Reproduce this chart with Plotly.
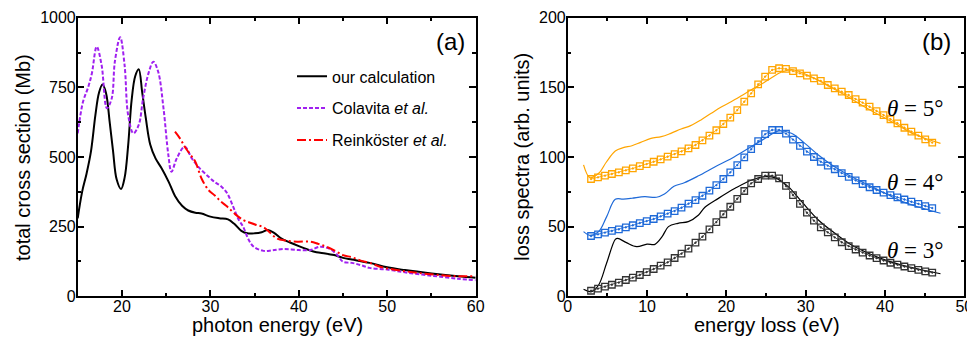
import plotly.graph_objects as go

# ---------------- panel (a) data ----------------
calc_x = [15, 15.5, 16, 16.5, 17, 17.4, 17.8, 18.2, 18.6, 19, 19.4, 19.9, 20.3, 20.7, 21.1, 21.5, 21.9,
          22.3, 22.7, 23.2, 23.8, 24.5, 25.3, 26, 26.8, 27.5, 28.3, 29, 30, 31, 32, 32.7, 33.5, 34.2,
          35, 35.8, 36.5, 37.2, 38, 39, 40, 41, 42, 43, 44, 45, 46, 48, 50, 52, 55, 58, 60]
calc_y = [280, 375, 440, 520, 650, 730, 760, 730, 630, 520, 420, 385, 425, 540, 705, 790, 815,
          730, 640, 545, 495, 459, 410, 360, 325, 308, 300, 297, 286, 280, 276, 260, 235, 226,
          226, 230, 238, 228, 208, 193, 180, 168, 158, 154, 148, 138, 132, 120, 104, 94, 82, 72, 67]

cola_x = [15, 15.6, 16.2, 16.6, 17.15, 17.7, 18.3, 18.85, 19.2, 19.8, 20.3, 20.7, 21.3, 21.9, 22.4, 23,
          23.55, 24.1, 24.7, 25.25, 25.6, 26.2, 27.1, 27.9, 28.8, 29.8, 30.5, 31.2, 31.9, 32.6, 33.2,
          33.7, 34.3, 34.9, 36, 37, 38.3, 40, 41.3, 42.4, 43.5, 44.3, 45, 46, 47, 48, 50, 52, 55, 58, 60]
cola_y = [585, 698, 752, 800, 896, 830, 675, 711, 842, 930, 830, 651, 585, 615, 711, 800,
          842, 806, 675, 507, 447, 495, 537, 495, 459, 429, 410, 395, 370, 320, 275,
          250, 205, 178, 163, 165, 170, 166, 166, 178, 170, 150, 124, 120, 112, 102, 96, 86, 74, 63, 58]

rein_x = [26, 26.6, 27.1, 27.7, 28.3, 29, 29.8, 30.5, 31.2, 31.9, 32.8, 33.7, 34.5, 35.2, 36, 36.7,
          37.5, 38.5, 39.8, 41.3, 42.2, 43.1, 44, 45, 46, 47, 48, 49, 50, 52, 54, 56, 58, 60]
rein_y = [591, 565, 537, 510, 483, 423, 381, 362, 340, 322, 295, 274, 264, 256, 248, 230,
          208, 200, 196, 196, 188, 178, 165, 148, 140, 128, 120, 108, 100, 90, 82, 76, 72, 72]

# ---------------- panel (b) data ----------------
sq_x = [2.94, 3.82, 4.70, 5.57, 6.45, 7.33, 8.21, 9.09, 9.96, 10.84, 11.72, 12.60, 13.48, 14.35,
        15.23, 16.11, 16.99, 17.87, 18.74, 19.62, 20.50, 21.38, 22.26, 23.13, 24.01, 24.89, 25.77,
        26.65, 27.52, 28.40, 29.28, 30.16, 31.04, 31.91, 32.79, 33.67, 34.55, 35.43, 36.30, 37.18,
        38.06, 38.94, 39.82, 40.69, 41.57, 42.45, 43.33, 44.21, 45.08, 45.96]
sq3 = [4.0, 5.5, 6.9, 8.3, 9.8, 11.7, 13.4, 15.3, 17.4, 19.6, 22.0, 24.4, 27.5, 30.6, 34.2, 38.5,
       42.8, 48.1, 53.3, 58.9, 64.3, 70.0, 75.6, 81.1, 84.2, 86.6, 86.6, 84.7, 79.2, 72.7, 66.3, 60.0,
       54.3, 49.5, 45.9, 42.3, 38.8, 36.0, 33.6, 31.4, 29.3, 27.4, 25.7, 24.1, 22.7, 21.4, 20.2, 19.0,
       17.9, 17.0]
sq4 = [43.3, 44.5, 45.7, 46.9, 48.1, 49.5, 51.0, 52.6, 54.0, 55.5, 57.4, 59.3, 61.2, 63.6, 66.5, 69.1,
       72.2, 75.8, 79.8, 84.2, 89.0, 94.2, 99.8, 105.6, 111.4, 116.4, 119.4, 119.4, 116.8, 112.5, 108.0,
       103.8, 100.0, 96.6, 93.8, 91.2, 88.4, 85.8, 83.2, 80.6, 78.3, 76.3, 74.4, 72.7, 71.0, 69.5, 67.9,
       66.4, 64.8, 63.3]
sq5 = [84.2, 85.4, 86.6, 87.8, 89.0, 90.4, 91.8, 93.5, 94.9, 96.6, 98.3, 100.2, 102.1, 104.0, 106.2,
       108.6, 112.0, 115.4, 119.2, 123.7, 128.2, 133.7, 139.7, 145.7, 152.2, 157.7, 162.5, 163.7, 163.2,
       161.7, 160.1, 158.4, 156.5, 154.6, 151.7, 149.3, 146.9, 144.5, 141.6, 139.0, 136.1, 133.0, 130.1,
       127.1, 124.2, 121.0, 118.2, 115.3, 112.7, 110.3]

l3_x = [2.0, 3.0, 3.9, 4.9, 6.0, 6.3, 7.4, 8.7, 10.0, 11.0, 11.9, 12.7, 13.9, 15.2, 16.5, 17.3, 19.0,
        21.1, 23.2, 24.9, 26.1, 27.8, 29.5, 31.6, 33.7, 35.8, 37.9, 40.0, 42.1, 44.2, 47.0]
l3_y = [5.0, 3.3, 8.1, 23.7, 40.9, 41.6, 38.5, 35.6, 37.5, 37.3, 42.8, 50.0, 52.4, 53.6, 58.4, 63.9, 70.3,
        77.5, 83.5, 85.9, 85.2, 78.7, 67.9, 54.8, 45.2, 36.8, 30.9, 26.1, 22.5, 19.6, 16.2]
l4_x = [2.0, 2.8, 3.9, 4.9, 6.0, 7.0, 8.1, 9.7, 11.2, 12.2, 13.4, 14.7, 16.5, 18.6, 20.7, 22.8, 24.9,
        26.6, 28.2, 29.9, 31.6, 33.3, 35.4, 37.5, 40.0, 42.0, 44.0, 47.0]
l4_y = [46.4, 43.8, 46.4, 57.0, 69.6, 69.8, 70.4, 71.5, 71.1, 73.4, 79.0, 81.5, 86.5, 93.0, 99.1, 106.2,
        113.4, 118.7, 117.0, 109.8, 101.4, 94.3, 87.1, 81.0, 74.0, 68.5, 64.5, 59.6]
l5_x = [2.0, 2.8, 3.9, 4.9, 6.0, 7.0, 8.1, 9.2, 10.5, 11.8, 13.0, 14.3, 15.5, 16.8, 18.1, 19.3, 20.6,
        21.9, 23.1, 24.4, 25.6, 26.9, 28.2, 29.0, 31.1, 33.2, 35.3, 37.4, 39.5, 41.6, 43.7, 47.0]
l5_y = [94.3, 85.2, 88.3, 96.6, 104.3, 106.7, 108.1, 110.5, 113.4, 114.6, 117.0, 120.1, 122.5, 126.6,
        131.4, 135.7, 139.7, 144.0, 148.1, 152.2, 156.5, 160.8, 162.7, 161.7, 156.5, 150.0, 143.3, 136.1,
        129.4, 123.0, 116.3, 109.8]

theta_labels = ["<i>θ</i> = 5°", "<i>θ</i> = 4°", "<i>θ</i> = 3°"]
theta_pos_y = [135, 82, 33]

BLACK = "#000000"
PURPLE = "#a020f0"
RED = "#ff0000"
ORANGE = "#ffa500"
BLUE = "#1f6ad8"
SANS = "Liberation Sans, Arial, sans-serif"
SERIF = "Liberation Serif, Times New Roman, serif"

fig = go.Figure()

fig.add_trace(go.Scatter(x=calc_x, y=calc_y, mode="lines", line=dict(color=BLACK, width=2, shape="spline"),
                         name="our calculation", legendgroup="a", xaxis="x", yaxis="y"))
fig.add_trace(go.Scatter(x=cola_x, y=cola_y, mode="lines",
                         line=dict(color=PURPLE, width=2, dash="4px,2px", shape="spline"),
                         name="Colavita <i>et al.</i>", legendgroup="b", xaxis="x", yaxis="y"))
fig.add_trace(go.Scatter(x=rein_x, y=rein_y, mode="lines",
                         line=dict(color=RED, width=2, dash="9px,3px,2px,3px", shape="spline"),
                         name="Reinköster <i>et al.</i>", legendgroup="c", xaxis="x", yaxis="y"))

for lx, ly, c in [(l3_x, l3_y, BLACK), (l4_x, l4_y, BLUE), (l5_x, l5_y, ORANGE)]:
    fig.add_trace(go.Scatter(x=lx, y=ly, mode="lines", line=dict(color=c, width=1.2, shape="spline"),
                             showlegend=False, xaxis="x2", yaxis="y2"))
for sy, c in [(sq3, "#333333"), (sq4, BLUE), (sq5, ORANGE)]:
    fig.add_trace(go.Scatter(x=sq_x, y=sy, mode="lines+markers", line=dict(color=c, width=0.8),
                             marker=dict(symbol="square-open-dot", size=6.5, color=c, line=dict(width=1.3, color=c)),
                             showlegend=False, xaxis="x2", yaxis="y2"))

axis_common = dict(showline=True, linecolor="black", linewidth=1.5, mirror="allticks", ticks="inside",
                   ticklen=7, tickwidth=1.5, tickcolor="black", showgrid=False, zeroline=False,
                   automargin=False,
                   tickfont=dict(family=SANS, size=16, color="black"))
minor_common = dict(ticks="inside", ticklen=4, tickwidth=1.5, tickcolor="black", tick0=0)

# page has an 8px body margin, so the figure is sized 8px smaller than the window
fig.update_layout(
    template="none",
    width=967, height=329, margin=dict(l=0, r=0, t=0, b=0, autoexpand=False),
    paper_bgcolor="white", plot_bgcolor="white",
    xaxis=dict(domain=[0.07208, 0.48366], range=[15, 60], tick0=0, dtick=10, anchor="y",
               ticklabelstandoff=-5, minor=dict(dtick=5, **minor_common), **axis_common),
    yaxis=dict(domain=[0.12371, 0.97052], range=[0, 1000], dtick=250, anchor="x",
               ticklabelstandoff=-3, minor=dict(dtick=125, **minor_common), **axis_common),
    xaxis2=dict(domain=[0.57880, 0.98893], range=[0, 50], dtick=10, anchor="y2",
                ticklabelstandoff=-5, minor=dict(dtick=5, **minor_common), **axis_common),
    yaxis2=dict(domain=[0.12371, 0.97052], range=[0, 200], dtick=50, anchor="x2",
                ticklabelstandoff=-3, minor=dict(dtick=25, **minor_common), **axis_common),
    legend=dict(x=0.2937, y=0.8438, xanchor="left", yanchor="top", bgcolor="rgba(0,0,0,0)",
                font=dict(family=SANS, size=16, color="black"), traceorder="grouped", tracegroupgap=8),
    showlegend=True,
)

title_font = dict(family=SANS, size=20, color="black")
fig.add_annotation(text="photon energy (eV)", x=0.2782, y=0.0365, xref="paper", yref="paper",
                   xanchor="center", yanchor="middle", showarrow=False, font=title_font)
fig.add_annotation(text="energy loss (eV)", x=0.7846, y=0.0365, xref="paper", yref="paper",
                   xanchor="center", yanchor="middle", showarrow=False, font=title_font)
fig.add_annotation(text="total cross section (Mb)", x=0.0155, y=0.5471, xref="paper", yref="paper",
                   xanchor="center", yanchor="middle", textangle=-90, showarrow=False, font=title_font)
fig.add_annotation(text="loss spectra (arb. units)", x=0.5312, y=0.5471, xref="paper", yref="paper",
                   xanchor="center", yanchor="middle", textangle=-90, showarrow=False, font=title_font)

fig.add_annotation(text="(a)", x=0.4571, y=0.8967, xref="paper", yref="paper", xanchor="center",
                   yanchor="middle", showarrow=False, font=dict(family=SANS, size=24, color="black"))
fig.add_annotation(text="(b)", x=0.9607, y=0.8967, xref="paper", yref="paper", xanchor="center",
                   yanchor="middle", showarrow=False, font=dict(family=SANS, size=24, color="black"))
for t, ty in zip(theta_labels, theta_pos_y):
    fig.add_annotation(text=t, x=47.6, y=ty, xref="x2", yref="y2", xanchor="right", yanchor="middle",
                       showarrow=False, font=dict(family=SERIF, size=23, color="black"))

fig.write_html("out.html")
